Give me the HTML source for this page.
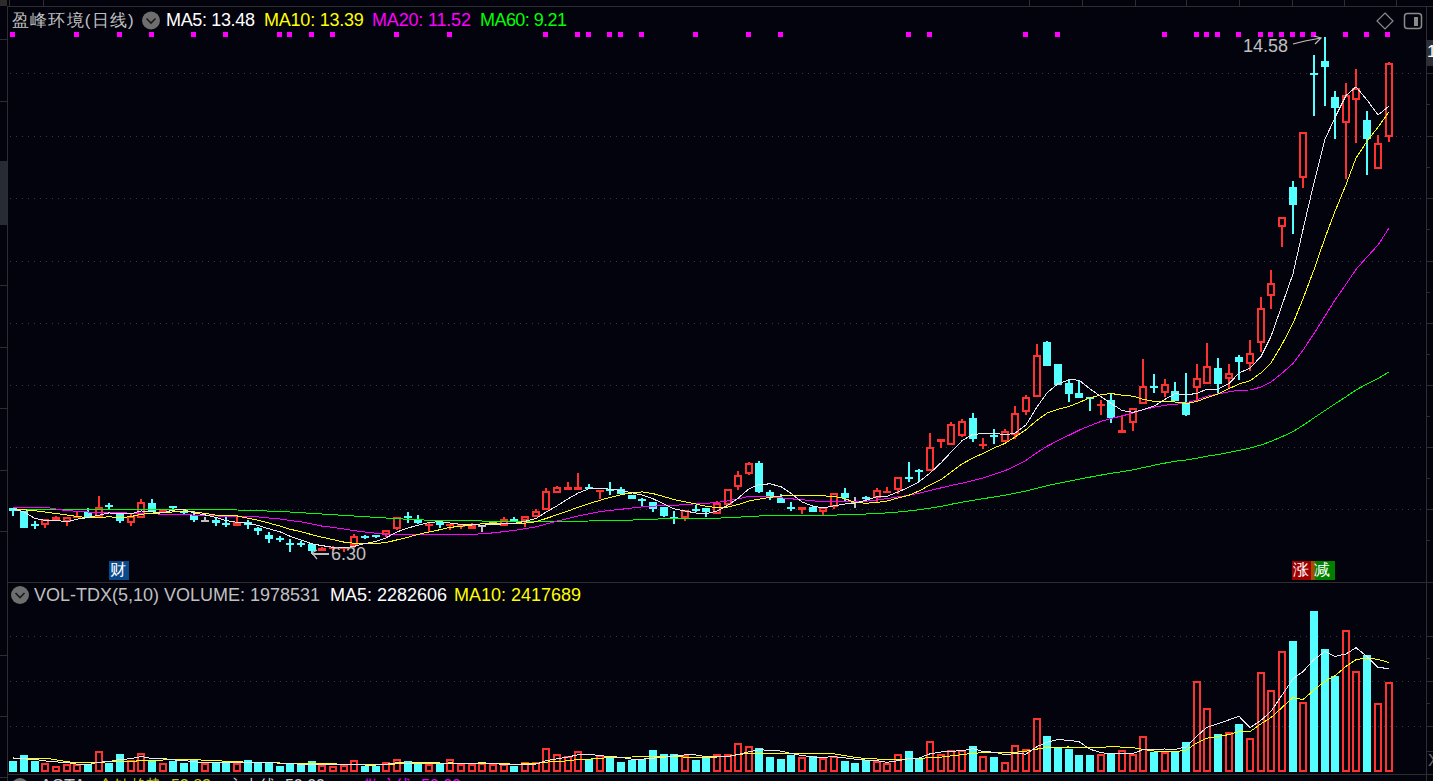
<!DOCTYPE html>
<html><head><meta charset="utf-8"><style>
html,body{margin:0;padding:0;background:#03030d;width:1433px;height:781px;overflow:hidden}
body{position:relative;font-family:"Liberation Sans",sans-serif}
.t{position:absolute;white-space:pre;font-size:17px;line-height:20px;color:#c0c0c0}
#wrap{position:absolute;left:0;top:0;width:1433px;height:781px}
</style></head><body><div id="wrap">
<svg width="1433" height="781" viewBox="0 0 1433 781" style="position:absolute;left:0;top:0" shape-rendering="crispEdges">
<rect x="0" y="0" width="1433" height="781" fill="#03030d"/>
<defs><pattern id="dots" x="10" y="0" width="6" height="1" patternUnits="userSpaceOnUse"><rect x="0" y="0" width="1" height="1" fill="#3a3a3a"/></pattern></defs>
<rect x="10" y="73" width="1414" height="1" fill="url(#dots)"/>
<rect x="10" y="136" width="1414" height="1" fill="url(#dots)"/>
<rect x="10" y="198" width="1414" height="1" fill="url(#dots)"/>
<rect x="10" y="261" width="1414" height="1" fill="url(#dots)"/>
<rect x="10" y="323" width="1414" height="1" fill="url(#dots)"/>
<rect x="10" y="385" width="1414" height="1" fill="url(#dots)"/>
<rect x="10" y="447" width="1414" height="1" fill="url(#dots)"/>
<rect x="10" y="509" width="1414" height="1" fill="url(#dots)"/>
<rect x="10" y="636" width="1414" height="1" fill="url(#dots)"/>
<rect x="10" y="681" width="1414" height="1" fill="url(#dots)"/>
<rect x="10" y="726" width="1414" height="1" fill="url(#dots)"/>
<rect x="0" y="0" width="7" height="6" fill="#2c2c2c"/>
<rect x="7" y="6" width="1426" height="1" fill="#2e2e2e"/>
<rect x="9" y="0" width="1" height="6" fill="#2e2e2e"/>
<rect x="43" y="0" width="1" height="6" fill="#2e2e2e"/>
<rect x="1029" y="0" width="1" height="6" fill="#2e2e2e"/>
<rect x="1082" y="0" width="1" height="6" fill="#2e2e2e"/>
<rect x="1135" y="0" width="1" height="6" fill="#2e2e2e"/>
<rect x="1186" y="0" width="1" height="6" fill="#2e2e2e"/>
<rect x="1239" y="0" width="1" height="6" fill="#2e2e2e"/>
<rect x="1292" y="0" width="1" height="6" fill="#2e2e2e"/>
<rect x="1344" y="0" width="1" height="6" fill="#2e2e2e"/>
<rect x="1396" y="0" width="1" height="6" fill="#2e2e2e"/>
<rect x="7" y="6" width="1" height="775" fill="#2e2e2e"/>
<rect x="1426" y="6" width="1" height="775" fill="#2e2e2e"/>
<rect x="8" y="582" width="1425" height="1" fill="#2e2e2e"/>
<rect x="8" y="774" width="1425" height="1" fill="#2e2e2e"/>
<rect x="0" y="39" width="7" height="1" fill="#2e2e2e"/>
<rect x="0" y="101" width="7" height="1" fill="#2e2e2e"/>
<rect x="0" y="285" width="7" height="1" fill="#2e2e2e"/>
<rect x="0" y="347" width="7" height="1" fill="#2e2e2e"/>
<rect x="0" y="408" width="7" height="1" fill="#2e2e2e"/>
<rect x="0" y="470" width="7" height="1" fill="#2e2e2e"/>
<rect x="0" y="531" width="7" height="1" fill="#2e2e2e"/>
<rect x="0" y="655" width="7" height="1" fill="#2e2e2e"/>
<rect x="0" y="716" width="7" height="1" fill="#2e2e2e"/>
<rect x="0" y="777" width="7" height="1" fill="#2e2e2e"/>
<rect x="0" y="161" width="7" height="64" fill="#272b33"/>
<rect x="1427" y="40" width="6" height="26" fill="#2c2f36"/>
<rect x="1427" y="73" width="6" height="1" fill="#2e2e2e"/>
<rect x="1427" y="136" width="6" height="1" fill="#2e2e2e"/>
<rect x="1427" y="198" width="6" height="1" fill="#2e2e2e"/>
<rect x="1427" y="261" width="6" height="1" fill="#2e2e2e"/>
<rect x="1427" y="323" width="6" height="1" fill="#2e2e2e"/>
<rect x="1427" y="385" width="6" height="1" fill="#2e2e2e"/>
<rect x="1427" y="447" width="6" height="1" fill="#2e2e2e"/>
<rect x="1427" y="509" width="6" height="1" fill="#2e2e2e"/>
<rect x="1427" y="104" width="3" height="1" fill="#2e2e2e"/>
<rect x="1427" y="167" width="3" height="1" fill="#2e2e2e"/>
<rect x="1427" y="229" width="3" height="1" fill="#2e2e2e"/>
<rect x="1427" y="292" width="3" height="1" fill="#2e2e2e"/>
<rect x="1427" y="354" width="3" height="1" fill="#2e2e2e"/>
<rect x="1427" y="416" width="3" height="1" fill="#2e2e2e"/>
<rect x="1427" y="478" width="3" height="1" fill="#2e2e2e"/>
<rect x="1427" y="540" width="3" height="1" fill="#2e2e2e"/>
<rect x="1427" y="636" width="6" height="1" fill="#2e2e2e"/>
<rect x="1427" y="681" width="6" height="1" fill="#2e2e2e"/>
<rect x="1427" y="726" width="6" height="1" fill="#2e2e2e"/>
<rect x="1427" y="658" width="3" height="1" fill="#2e2e2e"/>
<rect x="1427" y="703" width="3" height="1" fill="#2e2e2e"/>
<rect x="1427" y="751" width="6" height="1" fill="#2e2e2e"/>
<rect x="12" y="511" width="2" height="5" fill="#54ffff"/>
<rect x="9" y="508" width="8" height="3" fill="#54ffff"/>
<rect x="20" y="511" width="8" height="17" fill="#54ffff"/>
<rect x="34" y="521" width="2" height="8" fill="#54ffff"/>
<rect x="31" y="524" width="8" height="2" fill="#54ffff"/>
<rect x="44" y="525" width="2" height="3" fill="#ff3232"/>
<rect x="41" y="519" width="8" height="2" fill="#ff3232"/>
<rect x="41" y="523" width="8" height="2" fill="#ff3232"/>
<rect x="41" y="519" width="2" height="6" fill="#ff3232"/>
<rect x="47" y="519" width="2" height="6" fill="#ff3232"/>
<rect x="55" y="516" width="2" height="1" fill="#ff3232"/>
<rect x="52" y="517" width="8" height="3" fill="#ff3232"/>
<rect x="66" y="522" width="2" height="4" fill="#ff3232"/>
<rect x="63" y="517" width="8" height="2" fill="#ff3232"/>
<rect x="63" y="520" width="8" height="2" fill="#ff3232"/>
<rect x="63" y="517" width="2" height="5" fill="#ff3232"/>
<rect x="69" y="517" width="2" height="5" fill="#ff3232"/>
<rect x="76" y="512" width="2" height="4" fill="#ff3232"/>
<rect x="73" y="516" width="8" height="2" fill="#ff3232"/>
<rect x="87" y="508" width="2" height="4" fill="#54ffff"/>
<rect x="84" y="512" width="8" height="5" fill="#54ffff"/>
<rect x="98" y="496" width="2" height="11" fill="#ff3232"/>
<rect x="95" y="507" width="8" height="2" fill="#ff3232"/>
<rect x="95" y="515" width="8" height="2" fill="#ff3232"/>
<rect x="95" y="507" width="2" height="10" fill="#ff3232"/>
<rect x="101" y="507" width="2" height="10" fill="#ff3232"/>
<rect x="108" y="503" width="2" height="6" fill="#54ffff"/>
<rect x="105" y="505" width="8" height="2" fill="#54ffff"/>
<rect x="119" y="521" width="2" height="2" fill="#54ffff"/>
<rect x="116" y="512" width="8" height="9" fill="#54ffff"/>
<rect x="130" y="514" width="2" height="2" fill="#ff3232"/>
<rect x="130" y="523" width="2" height="3" fill="#ff3232"/>
<rect x="127" y="516" width="8" height="2" fill="#ff3232"/>
<rect x="127" y="521" width="8" height="2" fill="#ff3232"/>
<rect x="127" y="516" width="2" height="7" fill="#ff3232"/>
<rect x="133" y="516" width="2" height="7" fill="#ff3232"/>
<rect x="140" y="499" width="2" height="3" fill="#ff3232"/>
<rect x="137" y="502" width="8" height="2" fill="#ff3232"/>
<rect x="137" y="516" width="8" height="2" fill="#ff3232"/>
<rect x="137" y="502" width="2" height="16" fill="#ff3232"/>
<rect x="143" y="502" width="2" height="16" fill="#ff3232"/>
<rect x="151" y="499" width="2" height="4" fill="#54ffff"/>
<rect x="148" y="503" width="8" height="9" fill="#54ffff"/>
<rect x="159" y="510" width="8" height="2" fill="#ff3232"/>
<rect x="172" y="508" width="2" height="4" fill="#54ffff"/>
<rect x="169" y="506" width="8" height="2" fill="#54ffff"/>
<rect x="183" y="510" width="2" height="1" fill="#54ffff"/>
<rect x="183" y="513" width="2" height="1" fill="#54ffff"/>
<rect x="180" y="511" width="8" height="2" fill="#54ffff"/>
<rect x="193" y="511" width="2" height="4" fill="#54ffff"/>
<rect x="193" y="520" width="2" height="2" fill="#54ffff"/>
<rect x="190" y="515" width="8" height="5" fill="#54ffff"/>
<rect x="204" y="517" width="2" height="4" fill="#c0c0c0"/>
<rect x="201" y="520" width="8" height="2" fill="#c0c0c0"/>
<rect x="215" y="517" width="2" height="3" fill="#54ffff"/>
<rect x="215" y="523" width="2" height="3" fill="#54ffff"/>
<rect x="212" y="520" width="8" height="3" fill="#54ffff"/>
<rect x="225" y="517" width="2" height="10" fill="#54ffff"/>
<rect x="222" y="523" width="8" height="2" fill="#54ffff"/>
<rect x="236" y="517" width="2" height="5" fill="#ff3232"/>
<rect x="233" y="522" width="8" height="4" fill="#ff3232"/>
<rect x="247" y="520" width="2" height="2" fill="#54ffff"/>
<rect x="247" y="525" width="2" height="4" fill="#54ffff"/>
<rect x="244" y="522" width="8" height="3" fill="#54ffff"/>
<rect x="257" y="527" width="2" height="1" fill="#54ffff"/>
<rect x="257" y="531" width="2" height="4" fill="#54ffff"/>
<rect x="254" y="528" width="8" height="3" fill="#54ffff"/>
<rect x="268" y="532" width="2" height="3" fill="#54ffff"/>
<rect x="268" y="539" width="2" height="4" fill="#54ffff"/>
<rect x="265" y="535" width="8" height="4" fill="#54ffff"/>
<rect x="279" y="536" width="2" height="6" fill="#54ffff"/>
<rect x="276" y="538" width="8" height="2" fill="#54ffff"/>
<rect x="289" y="539" width="2" height="13" fill="#54ffff"/>
<rect x="286" y="543" width="8" height="2" fill="#54ffff"/>
<rect x="300" y="541" width="2" height="6" fill="#54ffff"/>
<rect x="297" y="543" width="8" height="2" fill="#54ffff"/>
<rect x="311" y="543" width="2" height="1" fill="#54ffff"/>
<rect x="311" y="551" width="2" height="3" fill="#54ffff"/>
<rect x="308" y="544" width="8" height="7" fill="#54ffff"/>
<rect x="321" y="547" width="2" height="1" fill="#ff3232"/>
<rect x="318" y="548" width="8" height="3" fill="#ff3232"/>
<rect x="332" y="546" width="2" height="1" fill="#ff3232"/>
<rect x="332" y="549" width="2" height="1" fill="#ff3232"/>
<rect x="329" y="547" width="8" height="2" fill="#ff3232"/>
<rect x="343" y="549" width="2" height="3" fill="#ff3232"/>
<rect x="340" y="547" width="8" height="2" fill="#ff3232"/>
<rect x="353" y="534" width="2" height="2" fill="#ff3232"/>
<rect x="353" y="546" width="2" height="2" fill="#ff3232"/>
<rect x="350" y="536" width="8" height="2" fill="#ff3232"/>
<rect x="350" y="544" width="8" height="2" fill="#ff3232"/>
<rect x="350" y="536" width="2" height="10" fill="#ff3232"/>
<rect x="356" y="536" width="2" height="10" fill="#ff3232"/>
<rect x="364" y="535" width="2" height="4" fill="#54ffff"/>
<rect x="361" y="536" width="8" height="2" fill="#54ffff"/>
<rect x="375" y="537" width="2" height="1" fill="#54ffff"/>
<rect x="372" y="535" width="8" height="2" fill="#54ffff"/>
<rect x="385" y="535" width="2" height="2" fill="#ff3232"/>
<rect x="382" y="530" width="8" height="2" fill="#ff3232"/>
<rect x="382" y="533" width="8" height="2" fill="#ff3232"/>
<rect x="382" y="530" width="2" height="5" fill="#ff3232"/>
<rect x="388" y="530" width="2" height="5" fill="#ff3232"/>
<rect x="396" y="529" width="2" height="1" fill="#ff3232"/>
<rect x="393" y="517" width="8" height="2" fill="#ff3232"/>
<rect x="393" y="527" width="8" height="2" fill="#ff3232"/>
<rect x="393" y="517" width="2" height="12" fill="#ff3232"/>
<rect x="399" y="517" width="2" height="12" fill="#ff3232"/>
<rect x="407" y="512" width="2" height="11" fill="#54ffff"/>
<rect x="404" y="516" width="8" height="2" fill="#54ffff"/>
<rect x="417" y="515" width="2" height="5" fill="#54ffff"/>
<rect x="417" y="523" width="2" height="1" fill="#54ffff"/>
<rect x="414" y="520" width="8" height="3" fill="#54ffff"/>
<rect x="428" y="522" width="2" height="2" fill="#ff3232"/>
<rect x="428" y="526" width="2" height="6" fill="#ff3232"/>
<rect x="425" y="524" width="8" height="2" fill="#ff3232"/>
<rect x="439" y="525" width="2" height="3" fill="#54ffff"/>
<rect x="436" y="522" width="8" height="3" fill="#54ffff"/>
<rect x="449" y="526" width="2" height="4" fill="#ff3232"/>
<rect x="446" y="524" width="8" height="2" fill="#ff3232"/>
<rect x="460" y="527" width="2" height="2" fill="#ff3232"/>
<rect x="457" y="524" width="8" height="3" fill="#ff3232"/>
<rect x="471" y="523" width="2" height="2" fill="#ff3232"/>
<rect x="468" y="525" width="8" height="4" fill="#ff3232"/>
<rect x="481" y="526" width="2" height="6" fill="#c0c0c0"/>
<rect x="478" y="525" width="8" height="2" fill="#c0c0c0"/>
<rect x="492" y="521" width="2" height="2" fill="#c0c0c0"/>
<rect x="489" y="522" width="8" height="2" fill="#c0c0c0"/>
<rect x="503" y="517" width="2" height="2" fill="#ff3232"/>
<rect x="500" y="519" width="8" height="2" fill="#ff3232"/>
<rect x="500" y="524" width="8" height="2" fill="#ff3232"/>
<rect x="500" y="519" width="2" height="7" fill="#ff3232"/>
<rect x="506" y="519" width="2" height="7" fill="#ff3232"/>
<rect x="513" y="517" width="2" height="2" fill="#54ffff"/>
<rect x="510" y="519" width="8" height="3" fill="#54ffff"/>
<rect x="524" y="521" width="2" height="6" fill="#ff3232"/>
<rect x="521" y="516" width="8" height="2" fill="#ff3232"/>
<rect x="521" y="519" width="8" height="2" fill="#ff3232"/>
<rect x="521" y="516" width="2" height="5" fill="#ff3232"/>
<rect x="527" y="516" width="2" height="5" fill="#ff3232"/>
<rect x="535" y="509" width="2" height="2" fill="#ff3232"/>
<rect x="532" y="511" width="8" height="2" fill="#ff3232"/>
<rect x="532" y="515" width="8" height="2" fill="#ff3232"/>
<rect x="532" y="511" width="2" height="6" fill="#ff3232"/>
<rect x="538" y="511" width="2" height="6" fill="#ff3232"/>
<rect x="545" y="488" width="2" height="3" fill="#ff3232"/>
<rect x="542" y="491" width="8" height="2" fill="#ff3232"/>
<rect x="542" y="508" width="8" height="2" fill="#ff3232"/>
<rect x="542" y="491" width="2" height="19" fill="#ff3232"/>
<rect x="548" y="491" width="2" height="19" fill="#ff3232"/>
<rect x="556" y="486" width="2" height="1" fill="#ff3232"/>
<rect x="553" y="487" width="8" height="2" fill="#ff3232"/>
<rect x="553" y="491" width="8" height="2" fill="#ff3232"/>
<rect x="553" y="487" width="2" height="6" fill="#ff3232"/>
<rect x="559" y="487" width="2" height="6" fill="#ff3232"/>
<rect x="567" y="482" width="2" height="5" fill="#ff3232"/>
<rect x="564" y="487" width="8" height="3" fill="#ff3232"/>
<rect x="577" y="473" width="2" height="14" fill="#ff3232"/>
<rect x="574" y="487" width="8" height="3" fill="#ff3232"/>
<rect x="588" y="484" width="2" height="3" fill="#54ffff"/>
<rect x="585" y="487" width="8" height="2" fill="#54ffff"/>
<rect x="599" y="492" width="2" height="7" fill="#ff3232"/>
<rect x="596" y="490" width="8" height="2" fill="#ff3232"/>
<rect x="609" y="482" width="2" height="13" fill="#54ffff"/>
<rect x="606" y="489" width="8" height="2" fill="#54ffff"/>
<rect x="620" y="487" width="2" height="2" fill="#54ffff"/>
<rect x="617" y="489" width="8" height="5" fill="#54ffff"/>
<rect x="628" y="495" width="8" height="4" fill="#54ffff"/>
<rect x="641" y="498" width="2" height="9" fill="#54ffff"/>
<rect x="638" y="499" width="8" height="2" fill="#54ffff"/>
<rect x="652" y="509" width="2" height="3" fill="#54ffff"/>
<rect x="649" y="502" width="8" height="7" fill="#54ffff"/>
<rect x="663" y="516" width="2" height="1" fill="#54ffff"/>
<rect x="660" y="507" width="8" height="9" fill="#54ffff"/>
<rect x="673" y="511" width="2" height="13" fill="#54ffff"/>
<rect x="670" y="517" width="8" height="2" fill="#54ffff"/>
<rect x="684" y="518" width="2" height="3" fill="#ff3232"/>
<rect x="681" y="510" width="8" height="2" fill="#ff3232"/>
<rect x="681" y="516" width="8" height="2" fill="#ff3232"/>
<rect x="681" y="510" width="2" height="8" fill="#ff3232"/>
<rect x="687" y="510" width="2" height="8" fill="#ff3232"/>
<rect x="695" y="505" width="2" height="7" fill="#54ffff"/>
<rect x="692" y="509" width="8" height="2" fill="#54ffff"/>
<rect x="705" y="512" width="2" height="5" fill="#54ffff"/>
<rect x="702" y="508" width="8" height="4" fill="#54ffff"/>
<rect x="716" y="501" width="2" height="2" fill="#ff3232"/>
<rect x="713" y="503" width="8" height="2" fill="#ff3232"/>
<rect x="713" y="512" width="8" height="2" fill="#ff3232"/>
<rect x="713" y="503" width="2" height="11" fill="#ff3232"/>
<rect x="719" y="503" width="2" height="11" fill="#ff3232"/>
<rect x="724" y="489" width="8" height="2" fill="#ff3232"/>
<rect x="724" y="503" width="8" height="2" fill="#ff3232"/>
<rect x="724" y="489" width="2" height="16" fill="#ff3232"/>
<rect x="730" y="489" width="2" height="16" fill="#ff3232"/>
<rect x="737" y="471" width="2" height="4" fill="#ff3232"/>
<rect x="737" y="487" width="2" height="3" fill="#ff3232"/>
<rect x="734" y="475" width="8" height="2" fill="#ff3232"/>
<rect x="734" y="485" width="8" height="2" fill="#ff3232"/>
<rect x="734" y="475" width="2" height="12" fill="#ff3232"/>
<rect x="740" y="475" width="2" height="12" fill="#ff3232"/>
<rect x="748" y="462" width="2" height="1" fill="#ff3232"/>
<rect x="748" y="474" width="2" height="1" fill="#ff3232"/>
<rect x="745" y="463" width="8" height="2" fill="#ff3232"/>
<rect x="745" y="472" width="8" height="2" fill="#ff3232"/>
<rect x="745" y="463" width="2" height="11" fill="#ff3232"/>
<rect x="751" y="463" width="2" height="11" fill="#ff3232"/>
<rect x="758" y="461" width="2" height="2" fill="#54ffff"/>
<rect x="758" y="492" width="2" height="1" fill="#54ffff"/>
<rect x="755" y="463" width="8" height="29" fill="#54ffff"/>
<rect x="769" y="490" width="2" height="2" fill="#54ffff"/>
<rect x="769" y="498" width="2" height="2" fill="#54ffff"/>
<rect x="766" y="492" width="8" height="6" fill="#54ffff"/>
<rect x="780" y="494" width="2" height="4" fill="#54ffff"/>
<rect x="777" y="498" width="8" height="5" fill="#54ffff"/>
<rect x="790" y="502" width="2" height="9" fill="#54ffff"/>
<rect x="787" y="507" width="8" height="2" fill="#54ffff"/>
<rect x="801" y="510" width="2" height="4" fill="#ff3232"/>
<rect x="798" y="507" width="8" height="3" fill="#ff3232"/>
<rect x="812" y="506" width="2" height="1" fill="#54ffff"/>
<rect x="809" y="507" width="8" height="5" fill="#54ffff"/>
<rect x="822" y="512" width="2" height="3" fill="#ff3232"/>
<rect x="819" y="507" width="8" height="2" fill="#ff3232"/>
<rect x="819" y="510" width="8" height="2" fill="#ff3232"/>
<rect x="819" y="507" width="2" height="5" fill="#ff3232"/>
<rect x="825" y="507" width="2" height="5" fill="#ff3232"/>
<rect x="833" y="507" width="2" height="2" fill="#ff3232"/>
<rect x="830" y="493" width="8" height="2" fill="#ff3232"/>
<rect x="830" y="505" width="8" height="2" fill="#ff3232"/>
<rect x="830" y="493" width="2" height="14" fill="#ff3232"/>
<rect x="836" y="493" width="2" height="14" fill="#ff3232"/>
<rect x="844" y="488" width="2" height="5" fill="#54ffff"/>
<rect x="844" y="498" width="2" height="4" fill="#54ffff"/>
<rect x="841" y="493" width="8" height="5" fill="#54ffff"/>
<rect x="854" y="497" width="2" height="11" fill="#c0c0c0"/>
<rect x="851" y="501" width="8" height="2" fill="#c0c0c0"/>
<rect x="865" y="496" width="2" height="5" fill="#54ffff"/>
<rect x="862" y="497" width="8" height="2" fill="#54ffff"/>
<rect x="876" y="488" width="2" height="2" fill="#ff3232"/>
<rect x="876" y="498" width="2" height="4" fill="#ff3232"/>
<rect x="873" y="490" width="8" height="2" fill="#ff3232"/>
<rect x="873" y="496" width="8" height="2" fill="#ff3232"/>
<rect x="873" y="490" width="2" height="8" fill="#ff3232"/>
<rect x="879" y="490" width="2" height="8" fill="#ff3232"/>
<rect x="886" y="487" width="2" height="4" fill="#ff3232"/>
<rect x="883" y="491" width="8" height="2" fill="#ff3232"/>
<rect x="897" y="490" width="2" height="4" fill="#ff3232"/>
<rect x="894" y="477" width="8" height="2" fill="#ff3232"/>
<rect x="894" y="488" width="8" height="2" fill="#ff3232"/>
<rect x="894" y="477" width="2" height="13" fill="#ff3232"/>
<rect x="900" y="477" width="2" height="13" fill="#ff3232"/>
<rect x="908" y="462" width="2" height="20" fill="#54ffff"/>
<rect x="905" y="477" width="8" height="2" fill="#54ffff"/>
<rect x="918" y="469" width="2" height="12" fill="#54ffff"/>
<rect x="915" y="470" width="8" height="2" fill="#54ffff"/>
<rect x="929" y="433" width="2" height="14" fill="#ff3232"/>
<rect x="926" y="447" width="8" height="2" fill="#ff3232"/>
<rect x="926" y="469" width="8" height="2" fill="#ff3232"/>
<rect x="926" y="447" width="2" height="24" fill="#ff3232"/>
<rect x="932" y="447" width="2" height="24" fill="#ff3232"/>
<rect x="940" y="442" width="2" height="6" fill="#ff3232"/>
<rect x="937" y="439" width="8" height="3" fill="#ff3232"/>
<rect x="950" y="422" width="2" height="2" fill="#ff3232"/>
<rect x="947" y="424" width="8" height="2" fill="#ff3232"/>
<rect x="947" y="443" width="8" height="2" fill="#ff3232"/>
<rect x="947" y="424" width="2" height="21" fill="#ff3232"/>
<rect x="953" y="424" width="2" height="21" fill="#ff3232"/>
<rect x="961" y="419" width="2" height="2" fill="#ff3232"/>
<rect x="961" y="436" width="2" height="1" fill="#ff3232"/>
<rect x="958" y="421" width="8" height="2" fill="#ff3232"/>
<rect x="958" y="434" width="8" height="2" fill="#ff3232"/>
<rect x="958" y="421" width="2" height="15" fill="#ff3232"/>
<rect x="964" y="421" width="2" height="15" fill="#ff3232"/>
<rect x="972" y="413" width="2" height="5" fill="#54ffff"/>
<rect x="972" y="439" width="2" height="3" fill="#54ffff"/>
<rect x="969" y="418" width="8" height="21" fill="#54ffff"/>
<rect x="982" y="438" width="2" height="11" fill="#ff3232"/>
<rect x="979" y="444" width="8" height="2" fill="#ff3232"/>
<rect x="993" y="429" width="2" height="15" fill="#54ffff"/>
<rect x="990" y="435" width="8" height="2" fill="#54ffff"/>
<rect x="1004" y="429" width="2" height="2" fill="#ff3232"/>
<rect x="1001" y="431" width="8" height="2" fill="#ff3232"/>
<rect x="1001" y="440" width="8" height="2" fill="#ff3232"/>
<rect x="1001" y="431" width="2" height="11" fill="#ff3232"/>
<rect x="1007" y="431" width="2" height="11" fill="#ff3232"/>
<rect x="1014" y="406" width="2" height="7" fill="#ff3232"/>
<rect x="1014" y="435" width="2" height="4" fill="#ff3232"/>
<rect x="1011" y="413" width="8" height="2" fill="#ff3232"/>
<rect x="1011" y="433" width="8" height="2" fill="#ff3232"/>
<rect x="1011" y="413" width="2" height="22" fill="#ff3232"/>
<rect x="1017" y="413" width="2" height="22" fill="#ff3232"/>
<rect x="1025" y="395" width="2" height="2" fill="#ff3232"/>
<rect x="1025" y="412" width="2" height="3" fill="#ff3232"/>
<rect x="1022" y="397" width="8" height="2" fill="#ff3232"/>
<rect x="1022" y="410" width="8" height="2" fill="#ff3232"/>
<rect x="1022" y="397" width="2" height="15" fill="#ff3232"/>
<rect x="1028" y="397" width="2" height="15" fill="#ff3232"/>
<rect x="1036" y="344" width="2" height="11" fill="#ff3232"/>
<rect x="1033" y="355" width="8" height="2" fill="#ff3232"/>
<rect x="1033" y="395" width="8" height="2" fill="#ff3232"/>
<rect x="1033" y="355" width="2" height="42" fill="#ff3232"/>
<rect x="1039" y="355" width="2" height="42" fill="#ff3232"/>
<rect x="1046" y="341" width="2" height="1" fill="#54ffff"/>
<rect x="1043" y="342" width="8" height="24" fill="#54ffff"/>
<rect x="1054" y="364" width="8" height="21" fill="#54ffff"/>
<rect x="1068" y="380" width="2" height="3" fill="#54ffff"/>
<rect x="1068" y="394" width="2" height="8" fill="#54ffff"/>
<rect x="1065" y="383" width="8" height="11" fill="#54ffff"/>
<rect x="1078" y="380" width="2" height="13" fill="#54ffff"/>
<rect x="1075" y="393" width="8" height="5" fill="#54ffff"/>
<rect x="1089" y="399" width="2" height="12" fill="#54ffff"/>
<rect x="1086" y="397" width="8" height="2" fill="#54ffff"/>
<rect x="1100" y="400" width="2" height="15" fill="#ff3232"/>
<rect x="1097" y="404" width="8" height="2" fill="#ff3232"/>
<rect x="1110" y="393" width="2" height="7" fill="#54ffff"/>
<rect x="1110" y="418" width="2" height="5" fill="#54ffff"/>
<rect x="1107" y="400" width="8" height="18" fill="#54ffff"/>
<rect x="1121" y="415" width="2" height="15" fill="#ff3232"/>
<rect x="1118" y="430" width="8" height="3" fill="#ff3232"/>
<rect x="1132" y="423" width="2" height="8" fill="#ff3232"/>
<rect x="1129" y="408" width="8" height="2" fill="#ff3232"/>
<rect x="1129" y="421" width="8" height="2" fill="#ff3232"/>
<rect x="1129" y="408" width="2" height="15" fill="#ff3232"/>
<rect x="1135" y="408" width="2" height="15" fill="#ff3232"/>
<rect x="1142" y="359" width="2" height="27" fill="#ff3232"/>
<rect x="1139" y="386" width="8" height="2" fill="#ff3232"/>
<rect x="1139" y="402" width="8" height="2" fill="#ff3232"/>
<rect x="1139" y="386" width="2" height="18" fill="#ff3232"/>
<rect x="1145" y="386" width="2" height="18" fill="#ff3232"/>
<rect x="1153" y="374" width="2" height="19" fill="#54ffff"/>
<rect x="1150" y="386" width="8" height="2" fill="#54ffff"/>
<rect x="1164" y="379" width="2" height="5" fill="#ff3232"/>
<rect x="1164" y="393" width="2" height="4" fill="#ff3232"/>
<rect x="1161" y="384" width="8" height="2" fill="#ff3232"/>
<rect x="1161" y="391" width="8" height="2" fill="#ff3232"/>
<rect x="1161" y="384" width="2" height="9" fill="#ff3232"/>
<rect x="1167" y="384" width="2" height="9" fill="#ff3232"/>
<rect x="1174" y="382" width="2" height="9" fill="#54ffff"/>
<rect x="1171" y="391" width="8" height="10" fill="#54ffff"/>
<rect x="1185" y="373" width="2" height="29" fill="#54ffff"/>
<rect x="1185" y="415" width="2" height="1" fill="#54ffff"/>
<rect x="1182" y="402" width="8" height="13" fill="#54ffff"/>
<rect x="1196" y="364" width="2" height="14" fill="#ff3232"/>
<rect x="1196" y="388" width="2" height="14" fill="#ff3232"/>
<rect x="1193" y="378" width="8" height="2" fill="#ff3232"/>
<rect x="1193" y="386" width="8" height="2" fill="#ff3232"/>
<rect x="1193" y="378" width="2" height="10" fill="#ff3232"/>
<rect x="1199" y="378" width="2" height="10" fill="#ff3232"/>
<rect x="1206" y="343" width="2" height="23" fill="#ff3232"/>
<rect x="1203" y="366" width="8" height="2" fill="#ff3232"/>
<rect x="1203" y="382" width="8" height="2" fill="#ff3232"/>
<rect x="1203" y="366" width="2" height="18" fill="#ff3232"/>
<rect x="1209" y="366" width="2" height="18" fill="#ff3232"/>
<rect x="1217" y="358" width="2" height="10" fill="#54ffff"/>
<rect x="1217" y="384" width="2" height="9" fill="#54ffff"/>
<rect x="1214" y="368" width="8" height="16" fill="#54ffff"/>
<rect x="1228" y="364" width="2" height="9" fill="#ff3232"/>
<rect x="1228" y="379" width="2" height="9" fill="#ff3232"/>
<rect x="1225" y="373" width="8" height="2" fill="#ff3232"/>
<rect x="1225" y="377" width="8" height="2" fill="#ff3232"/>
<rect x="1225" y="373" width="2" height="6" fill="#ff3232"/>
<rect x="1231" y="373" width="2" height="6" fill="#ff3232"/>
<rect x="1238" y="355" width="2" height="2" fill="#54ffff"/>
<rect x="1238" y="362" width="2" height="18" fill="#54ffff"/>
<rect x="1235" y="357" width="8" height="5" fill="#54ffff"/>
<rect x="1249" y="340" width="2" height="13" fill="#ff3232"/>
<rect x="1249" y="364" width="2" height="7" fill="#ff3232"/>
<rect x="1246" y="353" width="8" height="2" fill="#ff3232"/>
<rect x="1246" y="362" width="8" height="2" fill="#ff3232"/>
<rect x="1246" y="353" width="2" height="11" fill="#ff3232"/>
<rect x="1252" y="353" width="2" height="11" fill="#ff3232"/>
<rect x="1260" y="297" width="2" height="11" fill="#ff3232"/>
<rect x="1260" y="343" width="2" height="9" fill="#ff3232"/>
<rect x="1257" y="308" width="8" height="2" fill="#ff3232"/>
<rect x="1257" y="341" width="8" height="2" fill="#ff3232"/>
<rect x="1257" y="308" width="2" height="35" fill="#ff3232"/>
<rect x="1263" y="308" width="2" height="35" fill="#ff3232"/>
<rect x="1270" y="270" width="2" height="13" fill="#ff3232"/>
<rect x="1270" y="296" width="2" height="13" fill="#ff3232"/>
<rect x="1267" y="283" width="8" height="2" fill="#ff3232"/>
<rect x="1267" y="294" width="8" height="2" fill="#ff3232"/>
<rect x="1267" y="283" width="2" height="13" fill="#ff3232"/>
<rect x="1273" y="283" width="2" height="13" fill="#ff3232"/>
<rect x="1281" y="227" width="2" height="20" fill="#ff3232"/>
<rect x="1278" y="217" width="8" height="2" fill="#ff3232"/>
<rect x="1278" y="225" width="8" height="2" fill="#ff3232"/>
<rect x="1278" y="217" width="2" height="10" fill="#ff3232"/>
<rect x="1284" y="217" width="2" height="10" fill="#ff3232"/>
<rect x="1292" y="181" width="2" height="6" fill="#54ffff"/>
<rect x="1292" y="205" width="2" height="29" fill="#54ffff"/>
<rect x="1289" y="187" width="8" height="18" fill="#54ffff"/>
<rect x="1302" y="178" width="2" height="10" fill="#ff3232"/>
<rect x="1299" y="132" width="8" height="2" fill="#ff3232"/>
<rect x="1299" y="176" width="8" height="2" fill="#ff3232"/>
<rect x="1299" y="132" width="2" height="46" fill="#ff3232"/>
<rect x="1305" y="132" width="2" height="46" fill="#ff3232"/>
<rect x="1313" y="55" width="2" height="61" fill="#54ffff"/>
<rect x="1310" y="73" width="8" height="2" fill="#54ffff"/>
<rect x="1324" y="37" width="2" height="24" fill="#54ffff"/>
<rect x="1324" y="67" width="2" height="39" fill="#54ffff"/>
<rect x="1321" y="61" width="8" height="6" fill="#54ffff"/>
<rect x="1334" y="91" width="2" height="6" fill="#54ffff"/>
<rect x="1334" y="108" width="2" height="31" fill="#54ffff"/>
<rect x="1331" y="97" width="8" height="11" fill="#54ffff"/>
<rect x="1345" y="83" width="2" height="12" fill="#ff3232"/>
<rect x="1345" y="123" width="2" height="56" fill="#ff3232"/>
<rect x="1342" y="95" width="8" height="2" fill="#ff3232"/>
<rect x="1342" y="121" width="8" height="2" fill="#ff3232"/>
<rect x="1342" y="95" width="2" height="28" fill="#ff3232"/>
<rect x="1348" y="95" width="2" height="28" fill="#ff3232"/>
<rect x="1355" y="69" width="2" height="19" fill="#ff3232"/>
<rect x="1355" y="100" width="2" height="43" fill="#ff3232"/>
<rect x="1352" y="88" width="8" height="2" fill="#ff3232"/>
<rect x="1352" y="98" width="8" height="2" fill="#ff3232"/>
<rect x="1352" y="88" width="2" height="12" fill="#ff3232"/>
<rect x="1358" y="88" width="2" height="12" fill="#ff3232"/>
<rect x="1366" y="111" width="2" height="9" fill="#54ffff"/>
<rect x="1366" y="139" width="2" height="36" fill="#54ffff"/>
<rect x="1363" y="120" width="8" height="19" fill="#54ffff"/>
<rect x="1377" y="135" width="2" height="8" fill="#ff3232"/>
<rect x="1374" y="143" width="8" height="2" fill="#ff3232"/>
<rect x="1374" y="167" width="8" height="2" fill="#ff3232"/>
<rect x="1374" y="143" width="2" height="26" fill="#ff3232"/>
<rect x="1380" y="143" width="2" height="26" fill="#ff3232"/>
<rect x="1388" y="62" width="2" height="1" fill="#ff3232"/>
<rect x="1388" y="137" width="2" height="5" fill="#ff3232"/>
<rect x="1385" y="63" width="8" height="2" fill="#ff3232"/>
<rect x="1385" y="135" width="8" height="2" fill="#ff3232"/>
<rect x="1385" y="63" width="2" height="74" fill="#ff3232"/>
<rect x="1391" y="63" width="2" height="74" fill="#ff3232"/>
<rect x="9" y="761" width="8" height="11" fill="#54ffff"/>
<rect x="20" y="755" width="8" height="17" fill="#54ffff"/>
<rect x="31" y="761" width="8" height="11" fill="#54ffff"/>
<rect x="41" y="763" width="8" height="2" fill="#ff3232"/>
<rect x="41" y="770" width="8" height="2" fill="#ff3232"/>
<rect x="41" y="763" width="2" height="9" fill="#ff3232"/>
<rect x="47" y="763" width="2" height="9" fill="#ff3232"/>
<rect x="52" y="766" width="8" height="2" fill="#ff3232"/>
<rect x="52" y="770" width="8" height="2" fill="#ff3232"/>
<rect x="52" y="766" width="2" height="6" fill="#ff3232"/>
<rect x="58" y="766" width="2" height="6" fill="#ff3232"/>
<rect x="63" y="764" width="8" height="2" fill="#ff3232"/>
<rect x="63" y="770" width="8" height="2" fill="#ff3232"/>
<rect x="63" y="764" width="2" height="8" fill="#ff3232"/>
<rect x="69" y="764" width="2" height="8" fill="#ff3232"/>
<rect x="73" y="764" width="8" height="2" fill="#ff3232"/>
<rect x="73" y="770" width="8" height="2" fill="#ff3232"/>
<rect x="73" y="764" width="2" height="8" fill="#ff3232"/>
<rect x="79" y="764" width="2" height="8" fill="#ff3232"/>
<rect x="84" y="764" width="8" height="8" fill="#54ffff"/>
<rect x="95" y="751" width="8" height="2" fill="#ff3232"/>
<rect x="95" y="770" width="8" height="2" fill="#ff3232"/>
<rect x="95" y="751" width="2" height="21" fill="#ff3232"/>
<rect x="101" y="751" width="2" height="21" fill="#ff3232"/>
<rect x="105" y="763" width="8" height="9" fill="#54ffff"/>
<rect x="116" y="754" width="8" height="18" fill="#54ffff"/>
<rect x="127" y="760" width="8" height="2" fill="#ff3232"/>
<rect x="127" y="770" width="8" height="2" fill="#ff3232"/>
<rect x="127" y="760" width="2" height="12" fill="#ff3232"/>
<rect x="133" y="760" width="2" height="12" fill="#ff3232"/>
<rect x="137" y="753" width="8" height="2" fill="#ff3232"/>
<rect x="137" y="770" width="8" height="2" fill="#ff3232"/>
<rect x="137" y="753" width="2" height="19" fill="#ff3232"/>
<rect x="143" y="753" width="2" height="19" fill="#ff3232"/>
<rect x="148" y="761" width="8" height="11" fill="#54ffff"/>
<rect x="159" y="763" width="8" height="2" fill="#ff3232"/>
<rect x="159" y="770" width="8" height="2" fill="#ff3232"/>
<rect x="159" y="763" width="2" height="9" fill="#ff3232"/>
<rect x="165" y="763" width="2" height="9" fill="#ff3232"/>
<rect x="169" y="761" width="8" height="11" fill="#54ffff"/>
<rect x="180" y="763" width="8" height="9" fill="#54ffff"/>
<rect x="190" y="760" width="8" height="12" fill="#54ffff"/>
<rect x="201" y="763" width="8" height="2" fill="#ff3232"/>
<rect x="201" y="770" width="8" height="2" fill="#ff3232"/>
<rect x="201" y="763" width="2" height="9" fill="#ff3232"/>
<rect x="207" y="763" width="2" height="9" fill="#ff3232"/>
<rect x="212" y="763" width="8" height="9" fill="#54ffff"/>
<rect x="222" y="763" width="8" height="9" fill="#54ffff"/>
<rect x="233" y="763" width="8" height="2" fill="#ff3232"/>
<rect x="233" y="770" width="8" height="2" fill="#ff3232"/>
<rect x="233" y="763" width="2" height="9" fill="#ff3232"/>
<rect x="239" y="763" width="2" height="9" fill="#ff3232"/>
<rect x="244" y="760" width="8" height="12" fill="#54ffff"/>
<rect x="254" y="763" width="8" height="9" fill="#54ffff"/>
<rect x="265" y="763" width="8" height="9" fill="#54ffff"/>
<rect x="276" y="766" width="8" height="6" fill="#54ffff"/>
<rect x="286" y="764" width="8" height="8" fill="#54ffff"/>
<rect x="297" y="764" width="8" height="8" fill="#54ffff"/>
<rect x="308" y="761" width="8" height="11" fill="#54ffff"/>
<rect x="318" y="765" width="8" height="2" fill="#ff3232"/>
<rect x="318" y="770" width="8" height="2" fill="#ff3232"/>
<rect x="318" y="765" width="2" height="7" fill="#ff3232"/>
<rect x="324" y="765" width="2" height="7" fill="#ff3232"/>
<rect x="329" y="766" width="8" height="2" fill="#ff3232"/>
<rect x="329" y="770" width="8" height="2" fill="#ff3232"/>
<rect x="329" y="766" width="2" height="6" fill="#ff3232"/>
<rect x="335" y="766" width="2" height="6" fill="#ff3232"/>
<rect x="340" y="765" width="8" height="2" fill="#ff3232"/>
<rect x="340" y="770" width="8" height="2" fill="#ff3232"/>
<rect x="340" y="765" width="2" height="7" fill="#ff3232"/>
<rect x="346" y="765" width="2" height="7" fill="#ff3232"/>
<rect x="350" y="760" width="8" height="2" fill="#ff3232"/>
<rect x="350" y="770" width="8" height="2" fill="#ff3232"/>
<rect x="350" y="760" width="2" height="12" fill="#ff3232"/>
<rect x="356" y="760" width="2" height="12" fill="#ff3232"/>
<rect x="361" y="766" width="8" height="6" fill="#54ffff"/>
<rect x="372" y="766" width="8" height="6" fill="#54ffff"/>
<rect x="382" y="762" width="8" height="2" fill="#ff3232"/>
<rect x="382" y="770" width="8" height="2" fill="#ff3232"/>
<rect x="382" y="762" width="2" height="10" fill="#ff3232"/>
<rect x="388" y="762" width="2" height="10" fill="#ff3232"/>
<rect x="393" y="759" width="8" height="2" fill="#ff3232"/>
<rect x="393" y="770" width="8" height="2" fill="#ff3232"/>
<rect x="393" y="759" width="2" height="13" fill="#ff3232"/>
<rect x="399" y="759" width="2" height="13" fill="#ff3232"/>
<rect x="404" y="761" width="8" height="11" fill="#54ffff"/>
<rect x="414" y="764" width="8" height="8" fill="#54ffff"/>
<rect x="425" y="764" width="8" height="2" fill="#ff3232"/>
<rect x="425" y="770" width="8" height="2" fill="#ff3232"/>
<rect x="425" y="764" width="2" height="8" fill="#ff3232"/>
<rect x="431" y="764" width="2" height="8" fill="#ff3232"/>
<rect x="436" y="764" width="8" height="8" fill="#54ffff"/>
<rect x="446" y="759" width="8" height="2" fill="#ff3232"/>
<rect x="446" y="770" width="8" height="2" fill="#ff3232"/>
<rect x="446" y="759" width="2" height="13" fill="#ff3232"/>
<rect x="452" y="759" width="2" height="13" fill="#ff3232"/>
<rect x="457" y="764" width="8" height="2" fill="#ff3232"/>
<rect x="457" y="770" width="8" height="2" fill="#ff3232"/>
<rect x="457" y="764" width="2" height="8" fill="#ff3232"/>
<rect x="463" y="764" width="2" height="8" fill="#ff3232"/>
<rect x="468" y="764" width="8" height="2" fill="#ff3232"/>
<rect x="468" y="770" width="8" height="2" fill="#ff3232"/>
<rect x="468" y="764" width="2" height="8" fill="#ff3232"/>
<rect x="474" y="764" width="2" height="8" fill="#ff3232"/>
<rect x="478" y="763" width="8" height="2" fill="#ff3232"/>
<rect x="478" y="770" width="8" height="2" fill="#ff3232"/>
<rect x="478" y="763" width="2" height="9" fill="#ff3232"/>
<rect x="484" y="763" width="2" height="9" fill="#ff3232"/>
<rect x="489" y="764" width="8" height="2" fill="#ff3232"/>
<rect x="489" y="770" width="8" height="2" fill="#ff3232"/>
<rect x="489" y="764" width="2" height="8" fill="#ff3232"/>
<rect x="495" y="764" width="2" height="8" fill="#ff3232"/>
<rect x="500" y="764" width="8" height="2" fill="#ff3232"/>
<rect x="500" y="770" width="8" height="2" fill="#ff3232"/>
<rect x="500" y="764" width="2" height="8" fill="#ff3232"/>
<rect x="506" y="764" width="2" height="8" fill="#ff3232"/>
<rect x="510" y="766" width="8" height="6" fill="#54ffff"/>
<rect x="521" y="762" width="8" height="2" fill="#ff3232"/>
<rect x="521" y="770" width="8" height="2" fill="#ff3232"/>
<rect x="521" y="762" width="2" height="10" fill="#ff3232"/>
<rect x="527" y="762" width="2" height="10" fill="#ff3232"/>
<rect x="532" y="762" width="8" height="2" fill="#ff3232"/>
<rect x="532" y="770" width="8" height="2" fill="#ff3232"/>
<rect x="532" y="762" width="2" height="10" fill="#ff3232"/>
<rect x="538" y="762" width="2" height="10" fill="#ff3232"/>
<rect x="542" y="748" width="8" height="2" fill="#ff3232"/>
<rect x="542" y="770" width="8" height="2" fill="#ff3232"/>
<rect x="542" y="748" width="2" height="24" fill="#ff3232"/>
<rect x="548" y="748" width="2" height="24" fill="#ff3232"/>
<rect x="553" y="754" width="8" height="2" fill="#ff3232"/>
<rect x="553" y="770" width="8" height="2" fill="#ff3232"/>
<rect x="553" y="754" width="2" height="18" fill="#ff3232"/>
<rect x="559" y="754" width="2" height="18" fill="#ff3232"/>
<rect x="564" y="756" width="8" height="2" fill="#ff3232"/>
<rect x="564" y="770" width="8" height="2" fill="#ff3232"/>
<rect x="564" y="756" width="2" height="16" fill="#ff3232"/>
<rect x="570" y="756" width="2" height="16" fill="#ff3232"/>
<rect x="574" y="751" width="8" height="2" fill="#ff3232"/>
<rect x="574" y="770" width="8" height="2" fill="#ff3232"/>
<rect x="574" y="751" width="2" height="21" fill="#ff3232"/>
<rect x="580" y="751" width="2" height="21" fill="#ff3232"/>
<rect x="585" y="759" width="8" height="13" fill="#54ffff"/>
<rect x="596" y="755" width="8" height="2" fill="#ff3232"/>
<rect x="596" y="770" width="8" height="2" fill="#ff3232"/>
<rect x="596" y="755" width="2" height="17" fill="#ff3232"/>
<rect x="602" y="755" width="2" height="17" fill="#ff3232"/>
<rect x="606" y="758" width="8" height="14" fill="#54ffff"/>
<rect x="617" y="762" width="8" height="10" fill="#54ffff"/>
<rect x="628" y="760" width="8" height="12" fill="#54ffff"/>
<rect x="638" y="759" width="8" height="13" fill="#54ffff"/>
<rect x="649" y="750" width="8" height="22" fill="#54ffff"/>
<rect x="660" y="754" width="8" height="18" fill="#54ffff"/>
<rect x="670" y="754" width="8" height="18" fill="#54ffff"/>
<rect x="681" y="755" width="8" height="2" fill="#ff3232"/>
<rect x="681" y="770" width="8" height="2" fill="#ff3232"/>
<rect x="681" y="755" width="2" height="17" fill="#ff3232"/>
<rect x="687" y="755" width="2" height="17" fill="#ff3232"/>
<rect x="692" y="760" width="8" height="12" fill="#54ffff"/>
<rect x="702" y="758" width="8" height="14" fill="#54ffff"/>
<rect x="713" y="754" width="8" height="2" fill="#ff3232"/>
<rect x="713" y="770" width="8" height="2" fill="#ff3232"/>
<rect x="713" y="754" width="2" height="18" fill="#ff3232"/>
<rect x="719" y="754" width="2" height="18" fill="#ff3232"/>
<rect x="724" y="754" width="8" height="2" fill="#ff3232"/>
<rect x="724" y="770" width="8" height="2" fill="#ff3232"/>
<rect x="724" y="754" width="2" height="18" fill="#ff3232"/>
<rect x="730" y="754" width="2" height="18" fill="#ff3232"/>
<rect x="734" y="743" width="8" height="2" fill="#ff3232"/>
<rect x="734" y="770" width="8" height="2" fill="#ff3232"/>
<rect x="734" y="743" width="2" height="29" fill="#ff3232"/>
<rect x="740" y="743" width="2" height="29" fill="#ff3232"/>
<rect x="745" y="746" width="8" height="2" fill="#ff3232"/>
<rect x="745" y="770" width="8" height="2" fill="#ff3232"/>
<rect x="745" y="746" width="2" height="26" fill="#ff3232"/>
<rect x="751" y="746" width="2" height="26" fill="#ff3232"/>
<rect x="755" y="748" width="8" height="24" fill="#54ffff"/>
<rect x="766" y="757" width="8" height="15" fill="#54ffff"/>
<rect x="777" y="759" width="8" height="13" fill="#54ffff"/>
<rect x="787" y="755" width="8" height="17" fill="#54ffff"/>
<rect x="798" y="757" width="8" height="2" fill="#ff3232"/>
<rect x="798" y="770" width="8" height="2" fill="#ff3232"/>
<rect x="798" y="757" width="2" height="15" fill="#ff3232"/>
<rect x="804" y="757" width="2" height="15" fill="#ff3232"/>
<rect x="809" y="756" width="8" height="16" fill="#54ffff"/>
<rect x="819" y="758" width="8" height="2" fill="#ff3232"/>
<rect x="819" y="770" width="8" height="2" fill="#ff3232"/>
<rect x="819" y="758" width="2" height="14" fill="#ff3232"/>
<rect x="825" y="758" width="2" height="14" fill="#ff3232"/>
<rect x="830" y="756" width="8" height="2" fill="#ff3232"/>
<rect x="830" y="770" width="8" height="2" fill="#ff3232"/>
<rect x="830" y="756" width="2" height="16" fill="#ff3232"/>
<rect x="836" y="756" width="2" height="16" fill="#ff3232"/>
<rect x="841" y="761" width="8" height="11" fill="#54ffff"/>
<rect x="851" y="763" width="8" height="9" fill="#54ffff"/>
<rect x="862" y="760" width="8" height="12" fill="#54ffff"/>
<rect x="873" y="761" width="8" height="2" fill="#ff3232"/>
<rect x="873" y="770" width="8" height="2" fill="#ff3232"/>
<rect x="873" y="761" width="2" height="11" fill="#ff3232"/>
<rect x="879" y="761" width="2" height="11" fill="#ff3232"/>
<rect x="883" y="763" width="8" height="2" fill="#ff3232"/>
<rect x="883" y="770" width="8" height="2" fill="#ff3232"/>
<rect x="883" y="763" width="2" height="9" fill="#ff3232"/>
<rect x="889" y="763" width="2" height="9" fill="#ff3232"/>
<rect x="894" y="754" width="8" height="2" fill="#ff3232"/>
<rect x="894" y="770" width="8" height="2" fill="#ff3232"/>
<rect x="894" y="754" width="2" height="18" fill="#ff3232"/>
<rect x="900" y="754" width="2" height="18" fill="#ff3232"/>
<rect x="905" y="751" width="8" height="21" fill="#54ffff"/>
<rect x="915" y="758" width="8" height="14" fill="#54ffff"/>
<rect x="926" y="741" width="8" height="2" fill="#ff3232"/>
<rect x="926" y="770" width="8" height="2" fill="#ff3232"/>
<rect x="926" y="741" width="2" height="31" fill="#ff3232"/>
<rect x="932" y="741" width="2" height="31" fill="#ff3232"/>
<rect x="937" y="754" width="8" height="2" fill="#ff3232"/>
<rect x="937" y="770" width="8" height="2" fill="#ff3232"/>
<rect x="937" y="754" width="2" height="18" fill="#ff3232"/>
<rect x="943" y="754" width="2" height="18" fill="#ff3232"/>
<rect x="947" y="750" width="8" height="2" fill="#ff3232"/>
<rect x="947" y="770" width="8" height="2" fill="#ff3232"/>
<rect x="947" y="750" width="2" height="22" fill="#ff3232"/>
<rect x="953" y="750" width="2" height="22" fill="#ff3232"/>
<rect x="958" y="750" width="8" height="2" fill="#ff3232"/>
<rect x="958" y="770" width="8" height="2" fill="#ff3232"/>
<rect x="958" y="750" width="2" height="22" fill="#ff3232"/>
<rect x="964" y="750" width="2" height="22" fill="#ff3232"/>
<rect x="969" y="746" width="8" height="26" fill="#54ffff"/>
<rect x="979" y="756" width="8" height="2" fill="#ff3232"/>
<rect x="979" y="770" width="8" height="2" fill="#ff3232"/>
<rect x="979" y="756" width="2" height="16" fill="#ff3232"/>
<rect x="985" y="756" width="2" height="16" fill="#ff3232"/>
<rect x="990" y="757" width="8" height="15" fill="#54ffff"/>
<rect x="1001" y="762" width="8" height="2" fill="#ff3232"/>
<rect x="1001" y="770" width="8" height="2" fill="#ff3232"/>
<rect x="1001" y="762" width="2" height="10" fill="#ff3232"/>
<rect x="1007" y="762" width="2" height="10" fill="#ff3232"/>
<rect x="1011" y="745" width="8" height="2" fill="#ff3232"/>
<rect x="1011" y="770" width="8" height="2" fill="#ff3232"/>
<rect x="1011" y="745" width="2" height="27" fill="#ff3232"/>
<rect x="1017" y="745" width="2" height="27" fill="#ff3232"/>
<rect x="1022" y="749" width="8" height="2" fill="#ff3232"/>
<rect x="1022" y="770" width="8" height="2" fill="#ff3232"/>
<rect x="1022" y="749" width="2" height="23" fill="#ff3232"/>
<rect x="1028" y="749" width="2" height="23" fill="#ff3232"/>
<rect x="1033" y="718" width="8" height="2" fill="#ff3232"/>
<rect x="1033" y="770" width="8" height="2" fill="#ff3232"/>
<rect x="1033" y="718" width="2" height="54" fill="#ff3232"/>
<rect x="1039" y="718" width="2" height="54" fill="#ff3232"/>
<rect x="1043" y="736" width="8" height="36" fill="#54ffff"/>
<rect x="1054" y="748" width="8" height="24" fill="#54ffff"/>
<rect x="1065" y="749" width="8" height="23" fill="#54ffff"/>
<rect x="1075" y="755" width="8" height="17" fill="#54ffff"/>
<rect x="1086" y="755" width="8" height="17" fill="#54ffff"/>
<rect x="1097" y="754" width="8" height="2" fill="#ff3232"/>
<rect x="1097" y="770" width="8" height="2" fill="#ff3232"/>
<rect x="1097" y="754" width="2" height="18" fill="#ff3232"/>
<rect x="1103" y="754" width="2" height="18" fill="#ff3232"/>
<rect x="1107" y="753" width="8" height="19" fill="#54ffff"/>
<rect x="1118" y="750" width="8" height="2" fill="#ff3232"/>
<rect x="1118" y="770" width="8" height="2" fill="#ff3232"/>
<rect x="1118" y="750" width="2" height="22" fill="#ff3232"/>
<rect x="1124" y="750" width="2" height="22" fill="#ff3232"/>
<rect x="1129" y="754" width="8" height="2" fill="#ff3232"/>
<rect x="1129" y="770" width="8" height="2" fill="#ff3232"/>
<rect x="1129" y="754" width="2" height="18" fill="#ff3232"/>
<rect x="1135" y="754" width="2" height="18" fill="#ff3232"/>
<rect x="1139" y="736" width="8" height="2" fill="#ff3232"/>
<rect x="1139" y="770" width="8" height="2" fill="#ff3232"/>
<rect x="1139" y="736" width="2" height="36" fill="#ff3232"/>
<rect x="1145" y="736" width="2" height="36" fill="#ff3232"/>
<rect x="1150" y="752" width="8" height="20" fill="#54ffff"/>
<rect x="1161" y="752" width="8" height="2" fill="#ff3232"/>
<rect x="1161" y="770" width="8" height="2" fill="#ff3232"/>
<rect x="1161" y="752" width="2" height="20" fill="#ff3232"/>
<rect x="1167" y="752" width="2" height="20" fill="#ff3232"/>
<rect x="1171" y="752" width="8" height="20" fill="#54ffff"/>
<rect x="1182" y="742" width="8" height="30" fill="#54ffff"/>
<rect x="1193" y="681" width="8" height="2" fill="#ff3232"/>
<rect x="1193" y="770" width="8" height="2" fill="#ff3232"/>
<rect x="1193" y="681" width="2" height="91" fill="#ff3232"/>
<rect x="1199" y="681" width="2" height="91" fill="#ff3232"/>
<rect x="1203" y="708" width="8" height="2" fill="#ff3232"/>
<rect x="1203" y="770" width="8" height="2" fill="#ff3232"/>
<rect x="1203" y="708" width="2" height="64" fill="#ff3232"/>
<rect x="1209" y="708" width="2" height="64" fill="#ff3232"/>
<rect x="1214" y="734" width="8" height="38" fill="#54ffff"/>
<rect x="1225" y="732" width="8" height="2" fill="#ff3232"/>
<rect x="1225" y="770" width="8" height="2" fill="#ff3232"/>
<rect x="1225" y="732" width="2" height="40" fill="#ff3232"/>
<rect x="1231" y="732" width="2" height="40" fill="#ff3232"/>
<rect x="1235" y="724" width="8" height="48" fill="#54ffff"/>
<rect x="1246" y="738" width="8" height="2" fill="#ff3232"/>
<rect x="1246" y="770" width="8" height="2" fill="#ff3232"/>
<rect x="1246" y="738" width="2" height="34" fill="#ff3232"/>
<rect x="1252" y="738" width="2" height="34" fill="#ff3232"/>
<rect x="1257" y="672" width="8" height="2" fill="#ff3232"/>
<rect x="1257" y="770" width="8" height="2" fill="#ff3232"/>
<rect x="1257" y="672" width="2" height="100" fill="#ff3232"/>
<rect x="1263" y="672" width="2" height="100" fill="#ff3232"/>
<rect x="1267" y="690" width="8" height="2" fill="#ff3232"/>
<rect x="1267" y="770" width="8" height="2" fill="#ff3232"/>
<rect x="1267" y="690" width="2" height="82" fill="#ff3232"/>
<rect x="1273" y="690" width="2" height="82" fill="#ff3232"/>
<rect x="1278" y="651" width="8" height="2" fill="#ff3232"/>
<rect x="1278" y="770" width="8" height="2" fill="#ff3232"/>
<rect x="1278" y="651" width="2" height="121" fill="#ff3232"/>
<rect x="1284" y="651" width="2" height="121" fill="#ff3232"/>
<rect x="1289" y="641" width="8" height="131" fill="#54ffff"/>
<rect x="1299" y="702" width="8" height="2" fill="#ff3232"/>
<rect x="1299" y="770" width="8" height="2" fill="#ff3232"/>
<rect x="1299" y="702" width="2" height="70" fill="#ff3232"/>
<rect x="1305" y="702" width="2" height="70" fill="#ff3232"/>
<rect x="1310" y="611" width="8" height="161" fill="#54ffff"/>
<rect x="1321" y="649" width="8" height="123" fill="#54ffff"/>
<rect x="1331" y="676" width="8" height="96" fill="#54ffff"/>
<rect x="1342" y="630" width="8" height="2" fill="#ff3232"/>
<rect x="1342" y="770" width="8" height="2" fill="#ff3232"/>
<rect x="1342" y="630" width="2" height="142" fill="#ff3232"/>
<rect x="1348" y="630" width="2" height="142" fill="#ff3232"/>
<rect x="1352" y="671" width="8" height="2" fill="#ff3232"/>
<rect x="1352" y="770" width="8" height="2" fill="#ff3232"/>
<rect x="1352" y="671" width="2" height="101" fill="#ff3232"/>
<rect x="1358" y="671" width="2" height="101" fill="#ff3232"/>
<rect x="1363" y="655" width="8" height="117" fill="#54ffff"/>
<rect x="1374" y="703" width="8" height="2" fill="#ff3232"/>
<rect x="1374" y="770" width="8" height="2" fill="#ff3232"/>
<rect x="1374" y="703" width="2" height="69" fill="#ff3232"/>
<rect x="1380" y="703" width="2" height="69" fill="#ff3232"/>
<rect x="1385" y="682" width="8" height="2" fill="#ff3232"/>
<rect x="1385" y="770" width="8" height="2" fill="#ff3232"/>
<rect x="1385" y="682" width="2" height="90" fill="#ff3232"/>
<rect x="1391" y="682" width="2" height="90" fill="#ff3232"/>
<polyline points="13.0,509.8 24.0,509.8 35.0,509.8 45.0,509.8 56.0,509.8 67.0,509.8 77.0,509.8 88.0,509.8 99.0,509.8 109.0,509.8 120.0,509.8 131.0,509.7 141.0,509.7 152.0,509.6 163.0,509.5 173.0,509.4 184.0,509.3 194.0,509.5 205.0,509.6 216.0,509.7 226.0,509.8 237.0,510.0 248.0,510.3 258.0,510.6 269.0,511.1 280.0,511.6 290.0,512.0 301.0,512.7 312.0,513.4 322.0,514.0 333.0,514.7 344.0,515.4 354.0,516.0 365.0,516.7 376.0,517.4 386.0,518.0 397.0,518.6 408.0,519.3 418.0,519.9 429.0,520.1 440.0,520.3 450.0,520.5 461.0,520.7 472.0,520.9 482.0,521.0 493.0,521.1 504.0,521.2 514.0,521.3 525.0,521.5 536.0,521.6 546.0,521.7 557.0,521.6 568.0,521.4 578.0,521.2 589.0,521.0 600.0,520.8 610.0,520.6 621.0,520.4 632.0,520.1 642.0,519.1 653.0,519.1 664.0,518.9 674.0,518.8 685.0,518.6 696.0,518.5 706.0,518.4 717.0,518.2 728.0,517.7 738.0,517.2 749.0,516.5 759.0,516.0 770.0,515.7 781.0,515.7 791.0,515.6 802.0,515.6 813.0,515.7 823.0,515.6 834.0,515.1 845.0,514.7 855.0,514.4 866.0,514.0 877.0,513.4 887.0,512.9 898.0,512.0 909.0,510.9 919.0,509.8 930.0,508.2 941.0,506.4 951.0,504.3 962.0,502.2 973.0,500.4 983.0,498.7 994.0,497.0 1005.0,495.2 1015.0,493.2 1026.0,491.0 1037.0,488.3 1047.0,485.7 1058.0,483.4 1069.0,481.3 1079.0,479.2 1090.0,477.1 1101.0,475.1 1111.0,473.3 1122.0,471.7 1133.0,469.8 1143.0,467.6 1154.0,465.3 1165.0,463.1 1175.0,461.3 1186.0,460.0 1197.0,458.2 1207.0,456.2 1218.0,454.5 1229.0,452.5 1239.0,450.4 1250.0,448.1 1261.0,445.0 1271.0,441.4 1282.0,436.7 1293.0,431.7 1303.0,425.3 1314.0,417.9 1325.0,410.5 1335.0,403.8 1346.0,396.8 1356.0,389.9 1367.0,384.1 1378.0,378.5 1389.0,371.9" fill="none" stroke="#00ff00" stroke-width="1" shape-rendering="crispEdges"/>
<polyline points="13.0,507.3 24.0,507.3 35.0,507.3 45.0,507.3 56.0,509.0 67.0,510.7 77.0,511.2 88.0,512.0 99.0,512.0 109.0,512.0 120.0,512.0 131.0,513.6 141.0,513.7 152.0,513.9 163.0,514.1 173.0,514.4 184.0,514.7 194.0,515.1 205.0,515.5 216.0,515.9 226.0,516.5 237.0,516.2 248.0,516.2 258.0,516.9 269.0,518.0 280.0,519.0 290.0,520.5 301.0,521.8 312.0,524.0 322.0,526.1 333.0,527.4 344.0,529.0 354.0,530.7 365.0,532.0 376.0,533.3 386.0,534.4 397.0,534.6 408.0,534.4 418.0,534.5 429.0,534.6 440.0,534.7 450.0,534.8 461.0,534.7 472.0,534.4 482.0,533.7 493.0,532.9 504.0,531.6 514.0,530.5 525.0,528.7 536.0,526.9 546.0,524.1 557.0,521.1 568.0,518.6 578.0,516.1 589.0,513.7 600.0,511.7 610.0,510.4 621.0,509.3 632.0,508.0 642.0,506.9 653.0,506.1 664.0,505.7 674.0,505.3 685.0,504.6 696.0,503.8 706.0,503.3 717.0,502.5 728.0,500.8 738.0,498.8 749.0,496.4 759.0,496.4 770.0,497.0 781.0,497.8 791.0,498.8 802.0,499.7 813.0,500.8 823.0,501.7 834.0,501.7 845.0,501.6 855.0,501.7 866.0,501.2 877.0,499.9 887.0,498.6 898.0,496.9 909.0,495.3 919.0,493.2 930.0,490.4 941.0,487.9 951.0,485.4 962.0,483.2 973.0,480.6 983.0,477.9 994.0,474.5 1005.0,470.7 1015.0,466.1 1026.0,460.3 1037.0,452.7 1047.0,446.3 1058.0,440.6 1069.0,435.2 1079.0,430.2 1090.0,425.7 1101.0,421.4 1111.0,418.5 1122.0,416.0 1133.0,412.9 1143.0,409.8 1154.0,407.2 1165.0,405.2 1175.0,404.3 1186.0,403.1 1197.0,399.7 1207.0,396.2 1218.0,393.9 1229.0,391.8 1239.0,390.1 1250.0,390.0 1261.0,387.1 1271.0,382.0 1282.0,373.2 1293.0,363.5 1303.0,350.2 1314.0,333.6 1325.0,316.1 1335.0,300.0 1346.0,284.3 1356.0,269.4 1367.0,257.1 1378.0,245.0 1389.0,228.1" fill="none" stroke="#ff00ff" stroke-width="1" shape-rendering="crispEdges"/>
<polyline points="13.0,509.4 24.0,509.8 35.0,510.7 45.0,512.0 56.0,513.5 67.0,515.0 77.0,516.5 88.0,517.6 99.0,517.8 109.0,516.7 120.0,517.7 131.0,516.6 141.0,514.2 152.0,513.5 163.0,512.8 173.0,511.9 184.0,511.7 194.0,512.0 205.0,513.4 216.0,515.1 226.0,515.3 237.0,515.9 248.0,518.2 258.0,520.2 269.0,523.1 280.0,526.1 290.0,529.2 301.0,531.7 312.0,534.7 322.0,537.2 333.0,539.6 344.0,542.1 354.0,543.2 365.0,543.8 376.0,543.5 386.0,542.6 397.0,539.9 408.0,537.2 418.0,534.4 429.0,532.0 440.0,529.7 450.0,527.4 461.0,526.2 472.0,525.0 482.0,523.8 493.0,523.2 504.0,523.3 514.0,523.8 525.0,523.1 536.0,521.8 546.0,518.5 557.0,514.8 568.0,511.0 578.0,507.3 589.0,503.6 600.0,500.3 610.0,497.4 621.0,494.7 632.0,493.0 642.0,491.9 653.0,493.6 664.0,496.6 674.0,499.6 685.0,501.9 696.0,504.0 706.0,506.3 717.0,507.5 728.0,507.0 738.0,504.6 749.0,500.9 759.0,499.2 770.0,497.4 781.0,496.0 791.0,495.8 802.0,495.4 813.0,495.4 823.0,495.9 834.0,496.3 845.0,498.6 855.0,502.5 866.0,503.2 877.0,502.4 887.0,501.1 898.0,498.0 909.0,495.2 919.0,491.0 930.0,485.0 941.0,479.6 951.0,472.1 962.0,464.0 973.0,458.0 983.0,453.4 994.0,448.0 1005.0,443.4 1015.0,437.0 1026.0,429.6 1037.0,420.4 1047.0,413.1 1058.0,409.2 1069.0,406.5 1079.0,402.5 1090.0,397.9 1101.0,394.8 1111.0,393.5 1122.0,395.1 1133.0,396.2 1143.0,399.3 1154.0,401.4 1165.0,401.3 1175.0,402.0 1186.0,403.6 1197.0,401.5 1207.0,397.6 1218.0,394.2 1229.0,388.6 1239.0,384.0 1250.0,380.8 1261.0,372.8 1271.0,362.8 1282.0,344.4 1293.0,323.4 1303.0,298.8 1314.0,269.6 1325.0,237.9 1335.0,211.4 1346.0,184.7 1356.0,158.1 1367.0,141.3 1378.0,127.2 1389.0,111.8" fill="none" stroke="#ffff00" stroke-width="1" shape-rendering="crispEdges"/>
<polyline points="13.0,509.0 24.0,511.9 35.0,518.4 45.0,520.4 56.0,520.5 67.0,521.7 77.0,519.2 88.0,517.5 99.0,515.2 109.0,512.9 120.0,513.8 131.0,513.9 141.0,510.9 152.0,511.9 163.0,512.7 173.0,510.1 184.0,509.5 194.0,513.0 205.0,514.9 216.0,517.4 226.0,520.5 237.0,522.3 248.0,523.3 258.0,525.4 269.0,528.8 280.0,531.8 290.0,536.2 301.0,540.0 312.0,543.9 322.0,545.6 333.0,547.4 344.0,548.0 354.0,546.4 365.0,543.6 376.0,541.5 386.0,537.9 397.0,531.9 408.0,528.0 418.0,525.2 429.0,522.5 440.0,521.6 450.0,523.0 461.0,524.4 472.0,524.8 482.0,525.1 493.0,524.8 504.0,523.7 514.0,523.3 525.0,521.4 536.0,518.5 546.0,512.1 557.0,505.8 568.0,498.8 578.0,493.1 589.0,488.7 600.0,488.5 610.0,489.1 621.0,490.5 632.0,492.8 642.0,495.1 653.0,498.8 664.0,504.0 674.0,508.8 685.0,511.0 696.0,513.0 706.0,513.7 717.0,511.0 728.0,505.2 738.0,498.3 749.0,488.8 759.0,484.7 770.0,483.8 781.0,486.7 791.0,493.3 802.0,502.0 813.0,506.1 823.0,507.9 834.0,505.9 845.0,504.0 855.0,503.1 866.0,500.3 877.0,496.8 887.0,496.3 898.0,492.0 909.0,487.2 919.0,481.8 930.0,473.1 941.0,462.8 951.0,452.2 962.0,440.7 973.0,434.2 983.0,433.8 994.0,433.2 1005.0,434.7 1015.0,433.2 1026.0,425.0 1037.0,407.0 1047.0,392.9 1058.0,383.7 1069.0,379.8 1079.0,380.1 1090.0,388.9 1101.0,396.7 1111.0,403.3 1122.0,410.5 1133.0,412.4 1143.0,409.7 1154.0,406.1 1165.0,399.3 1175.0,393.5 1186.0,394.9 1197.0,393.4 1207.0,389.1 1218.0,389.2 1229.0,383.6 1239.0,373.1 1250.0,368.1 1261.0,356.5 1271.0,336.4 1282.0,305.2 1293.0,273.8 1303.0,229.5 1314.0,182.7 1325.0,139.4 1335.0,117.5 1346.0,95.6 1356.0,86.8 1367.0,99.9 1378.0,115.0 1389.0,106.1" fill="none" stroke="#e8e8e8" stroke-width="1" shape-rendering="crispEdges"/>
<polyline points="13.0,758.1 24.0,758.1 35.0,758.1 45.0,758.1 56.0,759.8 67.0,761.7 77.0,762.7 88.0,762.7 99.0,762.4 109.0,761.7 120.0,761.0 131.0,761.5 141.0,760.6 152.0,760.4 163.0,760.0 173.0,759.7 184.0,759.6 194.0,759.2 205.0,760.4 216.0,760.5 226.0,761.4 237.0,761.6 248.0,762.3 258.0,762.5 269.0,762.5 280.0,763.0 290.0,763.1 301.0,763.5 312.0,763.3 322.0,763.5 333.0,763.9 344.0,764.2 354.0,764.2 365.0,764.5 376.0,764.8 386.0,764.4 397.0,763.9 408.0,763.6 418.0,763.9 429.0,763.8 440.0,763.6 450.0,762.9 461.0,763.3 472.0,763.2 482.0,762.9 493.0,763.2 504.0,763.7 514.0,764.2 525.0,763.9 536.0,763.7 546.0,762.1 557.0,761.6 568.0,760.8 578.0,759.5 589.0,759.2 600.0,758.3 610.0,757.6 621.0,757.2 632.0,757.0 642.0,756.7 653.0,756.9 664.0,756.9 674.0,756.6 685.0,757.1 696.0,757.1 706.0,757.4 717.0,757.0 728.0,756.3 738.0,754.6 749.0,753.3 759.0,753.2 770.0,753.4 781.0,753.9 791.0,753.9 802.0,753.6 813.0,753.4 823.0,753.8 834.0,753.9 845.0,755.7 855.0,757.3 866.0,758.6 877.0,759.0 887.0,759.5 898.0,759.4 909.0,758.8 919.0,759.0 930.0,757.3 941.0,757.1 951.0,755.9 962.0,754.7 973.0,753.3 983.0,752.7 994.0,752.1 1005.0,752.8 1015.0,752.3 1026.0,751.3 1037.0,749.1 1047.0,747.3 1058.0,747.1 1069.0,747.0 1079.0,747.9 1090.0,747.9 1101.0,747.5 1111.0,746.6 1122.0,747.1 1133.0,747.6 1143.0,749.4 1154.0,751.0 1165.0,751.4 1175.0,751.6 1186.0,750.2 1197.0,742.8 1207.0,738.2 1218.0,736.4 1229.0,734.6 1239.0,731.6 1250.0,731.7 1261.0,723.8 1271.0,717.6 1282.0,707.5 1293.0,697.5 1303.0,699.6 1314.0,689.9 1325.0,681.4 1335.0,675.8 1346.0,666.4 1356.0,659.7 1367.0,658.0 1378.0,659.4 1389.0,662.5" fill="none" stroke="#ffff00" stroke-width="1" shape-rendering="crispEdges"/>
<polyline points="13.0,757.9 24.0,758.9 35.0,759.4 45.0,760.9 56.0,761.9 67.0,762.4 77.0,764.2 88.0,764.6 99.0,762.2 109.0,761.5 120.0,759.5 131.0,758.7 141.0,756.5 152.0,758.5 163.0,758.5 173.0,759.9 184.0,760.4 194.0,761.9 205.0,762.3 216.0,762.4 226.0,762.8 237.0,762.8 248.0,762.7 258.0,762.6 269.0,762.5 280.0,763.2 290.0,763.4 301.0,764.3 312.0,764.1 322.0,764.6 333.0,764.6 344.0,765.0 354.0,764.1 365.0,765.0 376.0,765.0 386.0,764.2 397.0,762.8 408.0,763.1 418.0,762.8 429.0,762.5 440.0,763.0 450.0,763.0 461.0,763.6 472.0,763.6 482.0,763.3 493.0,763.3 504.0,764.5 514.0,764.7 525.0,764.2 536.0,764.1 546.0,760.8 557.0,758.8 568.0,757.0 578.0,754.8 589.0,754.3 600.0,755.7 610.0,756.4 621.0,757.4 632.0,759.2 642.0,759.2 653.0,758.1 664.0,757.4 674.0,755.8 685.0,754.9 696.0,755.0 706.0,756.6 717.0,756.6 728.0,756.7 738.0,754.4 749.0,751.7 759.0,749.8 770.0,750.3 781.0,751.1 791.0,753.4 802.0,755.5 813.0,757.0 823.0,757.3 834.0,756.7 845.0,757.9 855.0,759.1 866.0,760.1 877.0,760.7 887.0,762.3 898.0,760.8 909.0,758.5 919.0,758.0 930.0,753.8 941.0,752.0 951.0,751.1 962.0,750.9 973.0,748.6 983.0,751.6 994.0,752.2 1005.0,754.6 1015.0,753.6 1026.0,754.1 1037.0,746.6 1047.0,742.3 1058.0,739.6 1069.0,740.4 1079.0,741.7 1090.0,749.2 1101.0,752.7 1111.0,753.7 1122.0,753.8 1133.0,753.5 1143.0,749.7 1154.0,749.2 1165.0,749.0 1175.0,749.4 1186.0,747.0 1197.0,735.9 1207.0,727.2 1218.0,723.8 1229.0,719.8 1239.0,716.2 1250.0,727.6 1261.0,720.3 1271.0,711.3 1282.0,695.2 1293.0,678.7 1303.0,671.6 1314.0,659.5 1325.0,651.4 1335.0,656.4 1346.0,654.0 1356.0,647.7 1367.0,656.5 1378.0,667.4 1389.0,668.6" fill="none" stroke="#e8e8e8" stroke-width="1" shape-rendering="crispEdges"/>
<rect x="10" y="32" width="5" height="5" fill="#ff00ff"/>
<rect x="74" y="32" width="5" height="5" fill="#ff00ff"/>
<rect x="117" y="32" width="5" height="5" fill="#ff00ff"/>
<rect x="149" y="32" width="5" height="5" fill="#ff00ff"/>
<rect x="191" y="32" width="5" height="5" fill="#ff00ff"/>
<rect x="223" y="32" width="5" height="5" fill="#ff00ff"/>
<rect x="277" y="32" width="5" height="5" fill="#ff00ff"/>
<rect x="287" y="32" width="5" height="5" fill="#ff00ff"/>
<rect x="309" y="32" width="5" height="5" fill="#ff00ff"/>
<rect x="330" y="32" width="5" height="5" fill="#ff00ff"/>
<rect x="394" y="32" width="5" height="5" fill="#ff00ff"/>
<rect x="447" y="32" width="5" height="5" fill="#ff00ff"/>
<rect x="543" y="32" width="5" height="5" fill="#ff00ff"/>
<rect x="575" y="32" width="5" height="5" fill="#ff00ff"/>
<rect x="586" y="32" width="5" height="5" fill="#ff00ff"/>
<rect x="607" y="32" width="5" height="5" fill="#ff00ff"/>
<rect x="618" y="32" width="5" height="5" fill="#ff00ff"/>
<rect x="639" y="32" width="5" height="5" fill="#ff00ff"/>
<rect x="693" y="32" width="5" height="5" fill="#ff00ff"/>
<rect x="746" y="32" width="5" height="5" fill="#ff00ff"/>
<rect x="778" y="32" width="5" height="5" fill="#ff00ff"/>
<rect x="906" y="32" width="5" height="5" fill="#ff00ff"/>
<rect x="927" y="32" width="5" height="5" fill="#ff00ff"/>
<rect x="1023" y="32" width="5" height="5" fill="#ff00ff"/>
<rect x="1055" y="32" width="5" height="5" fill="#ff00ff"/>
<rect x="1162" y="32" width="5" height="5" fill="#ff00ff"/>
<rect x="1194" y="32" width="5" height="5" fill="#ff00ff"/>
<rect x="1204" y="32" width="5" height="5" fill="#ff00ff"/>
<rect x="1215" y="32" width="5" height="5" fill="#ff00ff"/>
<rect x="1236" y="32" width="5" height="5" fill="#ff00ff"/>
<rect x="1258" y="32" width="5" height="5" fill="#ff00ff"/>
<rect x="1268" y="32" width="5" height="5" fill="#ff00ff"/>
<rect x="1279" y="32" width="5" height="5" fill="#ff00ff"/>
<rect x="1290" y="32" width="5" height="5" fill="#ff00ff"/>
<rect x="1300" y="32" width="5" height="5" fill="#ff00ff"/>
<rect x="1311" y="32" width="5" height="5" fill="#ff00ff"/>
<rect x="1343" y="32" width="5" height="5" fill="#ff00ff"/>
<rect x="1364" y="32" width="5" height="5" fill="#ff00ff"/>
<rect x="1385" y="32" width="5" height="5" fill="#ff00ff"/>
<rect x="109" y="561" width="20" height="19" fill="#0a4a8c"/>
<rect x="1292" y="561" width="19" height="19" fill="#a00000"/>
<rect x="1311" y="561" width="4" height="19" fill="#a05000"/>
<rect x="1315" y="561" width="20" height="19" fill="#008000"/>
<polyline points="1293,44 1305,41 1321,38" fill="none" stroke="#c0c0c0" stroke-width="1.2" shape-rendering="auto"/>
<polyline points="1314,36 1321,38 1315,44" fill="none" stroke="#c0c0c0" stroke-width="1.2" shape-rendering="auto"/>
<polyline points="329,554 312,554" fill="none" stroke="#c0c0c0" stroke-width="1.2"/>
<polyline points="317,550 312,553 317,559" fill="none" stroke="#c0c0c0" stroke-width="1.2" shape-rendering="auto"/>
<circle cx="151" cy="20.5" r="9" fill="#6e6e6e" shape-rendering="auto"/>
<polyline points="146.5,18.5 151,23 155.5,18.5" fill="none" stroke="#1a1a1a" stroke-width="1.6" shape-rendering="auto"/>
<circle cx="20" cy="595" r="9" fill="#6e6e6e" shape-rendering="auto"/>
<polyline points="15.5,593 20,597.5 24.5,593" fill="none" stroke="#1a1a1a" stroke-width="1.6" shape-rendering="auto"/>
<circle cx="20" cy="787" r="9" fill="#6e6e6e" shape-rendering="auto"/>
<polygon points="1385,13 1393,21 1385,29 1377,21" fill="none" stroke="#8a8a8a" stroke-width="1.2" shape-rendering="auto"/>
<rect x="1404.5" y="13.5" width="17" height="15" rx="3" fill="none" stroke="#8a8a8a" stroke-width="1.5" shape-rendering="auto"/>
<rect x="1414" y="17" width="4" height="9" fill="#8a8a8a"/>
</svg>
<div class="t" style="left:12px;top:11px;font-size:17px;letter-spacing:1.2px">盈峰环境(日线)</div>
<div class="t" style="left:166px;top:10px;font-size:18px;letter-spacing:-0.35px;color:#ffffff">MA5: 13.48</div>
<div class="t" style="left:264px;top:10px;font-size:18px;letter-spacing:-0.22px;color:#ffff00">MA10: 13.39</div>
<div class="t" style="left:372px;top:10px;font-size:18px;letter-spacing:-0.18px;color:#ff00ff">MA20: 11.52</div>
<div class="t" style="left:480px;top:10px;font-size:18px;letter-spacing:-0.56px;color:#00ff00">MA60: 9.21</div>
<div class="t" style="left:1243px;top:36px;font-size:18px">14.58</div>
<div class="t" style="left:331px;top:544px;font-size:18px">6.30</div>
<div class="t" style="left:110px;top:560px;color:#fff;font-size:16px">财</div>
<div class="t" style="left:1293px;top:560px;color:#fff;font-size:16px">涨</div>
<div class="t" style="left:1314px;top:560px;color:#fff;font-size:16px">减</div>
<div class="t" style="left:34px;top:585px;font-size:18px">VOL-TDX(5,10) VOLUME: 1978531</div>
<div class="t" style="left:330px;top:585px;font-size:18px;color:#fff">MA5: 2282606</div>
<div class="t" style="left:454px;top:585px;font-size:18px;color:#ffff00">MA10: 2417689</div>
<div class="t" style="left:1427px;top:42px;color:#fff">1</div>
<div class="t" style="left:1428px;top:751px;font-size:17px;color:#6a6a6a">X</div>
<div class="t" style="left:40px;top:776px;font-size:18px">ASTA</div>
<div class="t" style="left:98px;top:776px;font-size:16px;color:#c8c800">金钻趋势: 52.82</div>
<div class="t" style="left:228px;top:776px;font-size:16px;color:#d0d0d0">主力线: 50.00</div>
<div class="t" style="left:364px;top:776px;font-size:16px;color:#ff00ff">散户线: 50.00</div>
</div></body></html>
